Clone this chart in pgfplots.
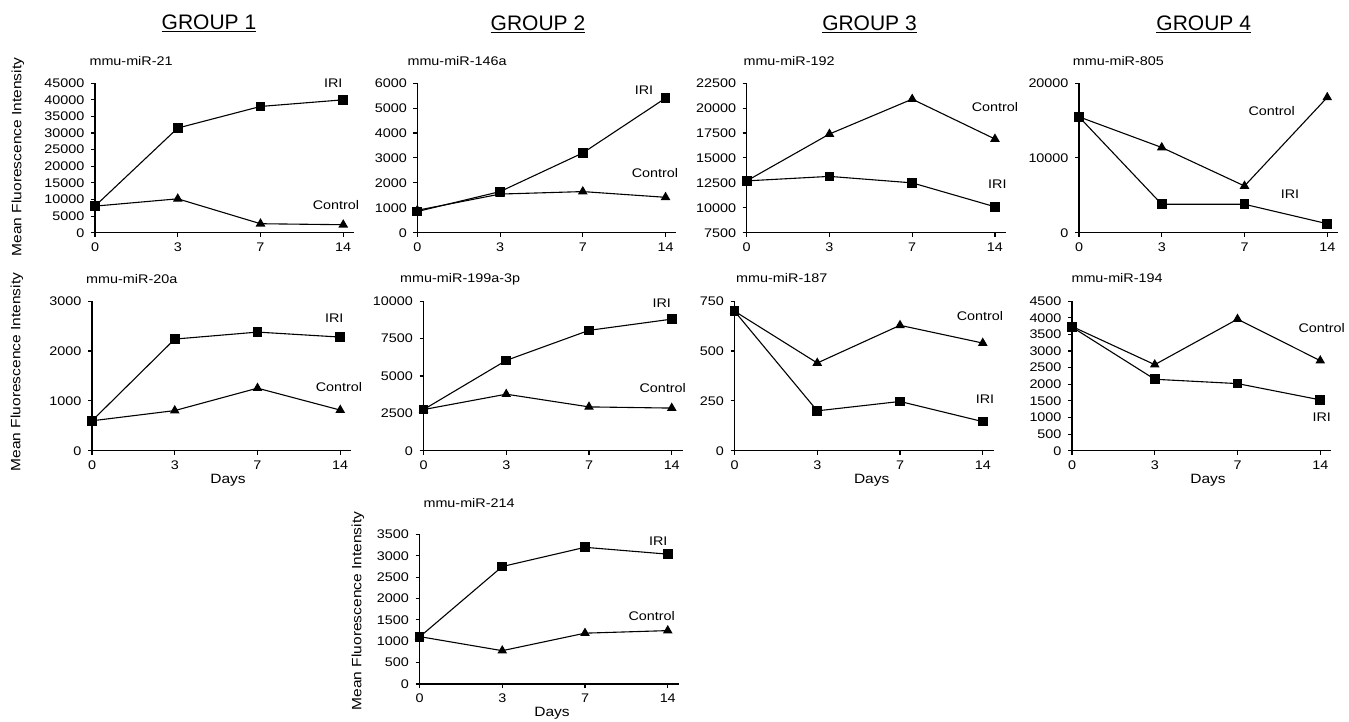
\documentclass[border=0pt]{standalone}
\usepackage{fontspec}
\setmainfont{Liberation Sans}
\newfontfamily\wf{Liberation Sans}[FakeStretch=1.15]
\usepackage{pgfplots}
\pgfplotsset{compat=1.18}
\pgfplotsset{
  mystyle/.style={
    scale only axis, width=259pt, height=149.5pt,
    axis lines=left, axis line style={-, line width=1.1pt},
    xmin=0, xmax=3.13, xtick={0,1,2,3}, xticklabels={0,3,7,14},
    tick align=outside, major tick length=4pt,
    tick style={black, line width=1.1pt},
    ticklabel style={font=\wf\fontsize{12.5}{12.5}\selectfont},
    xticklabel style={yshift=-2.5pt},
    yticklabel style={xshift=-3pt},
    /pgf/number format/assume math mode=true,
    /pgf/number format/1000 sep={},
    scaled y ticks=false,
    clip=false,
    anchor=south west,
  },
  iri/.style={black, line width=1.1pt, mark=square*, mark size=4.3pt, mark options={solid}},
  ctl/.style={black, line width=1.1pt, mark=triangle*, mark size=4.5pt, mark options={solid}},
}
\newcommand{\tf}{\wf\fontsize{12.5}{14}\selectfont}
\begin{document}
\begin{tikzpicture}
\useasboundingbox (0pt,0pt) rectangle (1349pt,721pt);

% headings
\node[font=\fontsize{21}{24}\selectfont] at (209pt,698pt) {\underline{GROUP 1}};
\node[font=\fontsize{21}{24}\selectfont] at (538pt,697pt) {\underline{GROUP 2}};
\node[font=\fontsize{21}{24}\selectfont] at (869.5pt,696.5pt) {\underline{GROUP 3}};
\node[font=\fontsize{21}{24}\selectfont] at (1203.7pt,696.5pt) {\underline{GROUP 4}};

% Row 1
\begin{axis}[mystyle, at={(95pt,488.3pt)}, ymin=0, ymax=45000, ytick={0,5000,...,45000}]
\addplot[ctl] coordinates {(0,8000) (1,10200) (2,2700) (3,2400)};
\addplot[iri] coordinates {(0,8000) (1,31500) (2,38000) (3,40000)};
\end{axis}
\begin{axis}[mystyle, at={(417.3pt,488.3pt)}, ymin=0, ymax=6000, ytick={0,1000,...,6000}]
\addplot[ctl] coordinates {(0,900) (1,1550) (2,1650) (3,1420)};
\addplot[iri] coordinates {(0,850) (1,1650) (2,3200) (3,5400)};
\end{axis}
\begin{axis}[mystyle, at={(746.7pt,488.3pt)}, ymin=7500, ymax=22500, ytick={7500,10000,...,22500}]
\addplot[ctl] coordinates {(0,12700) (1,17400) (2,20900) (3,16900)};
\addplot[iri] coordinates {(0,12700) (1,13150) (2,12500) (3,10100)};
\end{axis}
\begin{axis}[mystyle, at={(1079pt,488.3pt)}, ymin=0, ymax=20000, ytick={0,10000,20000}]
\addplot[ctl] coordinates {(0,15500) (1,11400) (2,6250) (3,18100)};
\addplot[iri] coordinates {(0,15500) (1,3800) (2,3800) (3,1200)};
\end{axis}

% Row 2
\begin{axis}[mystyle, at={(92pt,270.3pt)}, ymin=0, ymax=3000, ytick={0,1000,2000,3000}]
\addplot[ctl] coordinates {(0,600) (1,805) (2,1255) (3,815)};
\addplot[iri] coordinates {(0,600) (1,2240) (2,2380) (3,2280)};
\end{axis}
\begin{axis}[mystyle, at={(423.5pt,270.3pt)}, ymin=0, ymax=10000, ytick={0,2500,...,10000}]
\addplot[ctl] coordinates {(0,2750) (1,3780) (2,2930) (3,2850)};
\addplot[iri] coordinates {(0,2750) (1,6040) (2,8050) (3,8800)};
\end{axis}
\begin{axis}[mystyle, at={(734.5pt,270.3pt)}, ymin=0, ymax=750, ytick={0,250,500,750}]
\addplot[ctl] coordinates {(0,700) (1,440) (2,629) (3,540)};
\addplot[iri] coordinates {(0,700) (1,200) (2,247) (3,146)};
\end{axis}
\begin{axis}[mystyle, at={(1072pt,270.3pt)}, ymin=0, ymax=4500, ytick={0,500,...,4500}]
\addplot[ctl] coordinates {(0,3740) (1,2590) (2,3960) (3,2710)};
\addplot[iri] coordinates {(0,3720) (1,2150) (2,2020) (3,1530)};
\end{axis}

% Row 3
\begin{axis}[mystyle, at={(419.5pt,37pt)}, ymin=0, ymax=3500, ytick={0,500,...,3500}]
\addplot[ctl] coordinates {(0,1110) (1,780) (2,1190) (3,1250)};
\addplot[iri] coordinates {(0,1100) (1,2750) (2,3200) (3,3040)};
\end{axis}

% titles
\node[font=\tf, anchor=west] at (86pt,660.3pt) {mmu-miR-21};
\node[font=\tf, anchor=west] at (404pt,660.3pt) {mmu-miR-146a};
\node[font=\tf, anchor=west] at (740pt,660.3pt) {mmu-miR-192};
\node[font=\tf, anchor=west] at (1069.3pt,660.3pt) {mmu-miR-805};
\node[font=\tf, anchor=west] at (82.7pt,442pt) {mmu-miR-20a};
\node[font=\tf, anchor=west] at (396.7pt,442pt) {mmu-miR-199a-3p};
\node[font=\tf, anchor=west] at (732.7pt,443pt) {mmu-miR-187};
\node[font=\tf, anchor=west] at (1068pt,443pt) {mmu-miR-194};
\node[font=\tf, anchor=west] at (420pt,217.7pt) {mmu-miR-214};

% series labels
\node[font=\tf] at (333.3pt,637.7pt) {IRI};
\node[font=\tf] at (336pt,516pt) {Control};
\node[font=\tf] at (644pt,631pt) {IRI};
\node[font=\tf] at (655pt,548pt) {Control};
\node[font=\tf] at (995pt,614.3pt) {Control};
\node[font=\tf] at (997.3pt,536.7pt) {IRI};
\node[font=\tf] at (1271.7pt,610.3pt) {Control};
\node[font=\tf] at (1290pt,527pt) {IRI};
\node[font=\tf] at (334.3pt,402.7pt) {IRI};
\node[font=\tf] at (339pt,334.3pt) {Control};
\node[font=\tf] at (661.7pt,417.7pt) {IRI};
\node[font=\tf] at (662.7pt,332.7pt) {Control};
\node[font=\tf] at (980pt,405pt) {Control};
\node[font=\tf] at (985pt,322pt) {IRI};
\node[font=\tf] at (1321.7pt,392.7pt) {Control};
\node[font=\tf] at (1321.7pt,303.7pt) {IRI};
\node[font=\tf] at (658.3pt,180.3pt) {IRI};
\node[font=\tf] at (651.7pt,105pt) {Control};

% axis labels
\node[font=\wf\fontsize{13.5}{15}\selectfont, rotate=90] at (18pt,564pt) {Mean Fluorescence Intensity};
\node[font=\wf\fontsize{13.5}{15}\selectfont, rotate=90] at (17pt,349pt) {Mean Fluorescence Intensity};
\node[font=\wf\fontsize{13.5}{15}\selectfont, rotate=90] at (358pt,110pt) {Mean Fluorescence Intensity};
\node[font=\wf\fontsize{13.5}{15}\selectfont] at (228pt,241pt) {Days};
\node[font=\wf\fontsize{13.5}{15}\selectfont] at (871.7pt,241pt) {Days};
\node[font=\wf\fontsize{13.5}{15}\selectfont] at (1208pt,241pt) {Days};
\node[font=\wf\fontsize{13.5}{15}\selectfont] at (552pt,7.5pt) {Days};
\end{tikzpicture}
\end{document}
